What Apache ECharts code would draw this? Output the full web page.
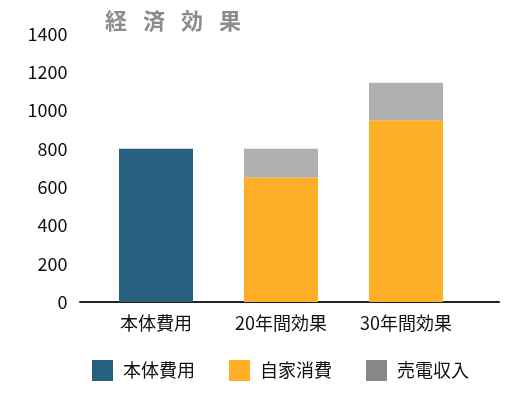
<!DOCTYPE html>
<html><head><meta charset="utf-8">
<script src="https://cdn.jsdelivr.net/npm/echarts@6/dist/echarts.min.js"></script>
<style>html,body{margin:0;padding:0;background:#fff}#c{width:527px;height:409px}</style>
</head><body><div id="c"></div>
<script>
const categories = ['本体費用', '20年間効果', '30年間効果'];
const seriesNames = ['本体費用', '自家消費', '売電収入'];
const honntai = [800, null, null];
const jikaShohi = [null, 650, 950];
const baiden = [null, 150, 195];
const yTicks = [0, 200, 400, 600, 800, 1000, 1200, 1400];

const font = "'Noto Sans CJK JP', sans-serif";
const chart = echarts.init(document.getElementById('c'));
chart.setOption({
  animation: false,
  backgroundColor: '#fff',
  title: {
    text: '経\u2002 済\u2002 効\u2002 果', left: 100, top: 5,
    textStyle: { color: '#8c8c8c', fontSize: 22, fontWeight: 'bold', fontFamily: font }
  },
  legend: {
    bottom: 23, left: 87,
    itemWidth: 21, itemHeight: 21, itemGap: 34,
    textStyle: { fontSize: 18, color: '#111', fontFamily: font, padding: [0, 0, 0, 5] },
    data: [
      { name: seriesNames[0], icon: 'rect' },
      { name: seriesNames[1], icon: 'rect' },
      { name: seriesNames[2], icon: 'rect', itemStyle: { color: '#888888' } }
    ]
  },
  grid: [
    { left: 93.5, right: 58.5, top: 34, bottom: 107 },
    { left: 80, right: 28, top: 34, bottom: 107 }
  ],
  xAxis: [
    {
      type: 'category', data: categories, gridIndex: 0,
      axisLine: { show: false }, axisTick: { show: false },
      axisLabel: { fontSize: 18, color: '#111', margin: 12, fontFamily: font }
    },
    {
      type: 'value', gridIndex: 1, min: 0, max: 1,
      axisLine: { show: true, lineStyle: { color: '#222', width: 2 } },
      axisTick: { show: false }, axisLabel: { show: false }, splitLine: { show: false }
    }
  ],
  yAxis: [
    {
      type: 'value', gridIndex: 0, min: yTicks[0], max: yTicks[yTicks.length - 1], interval: 200,
      axisLine: { show: false }, axisTick: { show: false }, splitLine: { show: false },
      axisLabel: { fontSize: 18, color: '#111', margin: 26, fontFamily: font, formatter: v => String(v) }
    },
    {
      type: 'value', gridIndex: 1, min: 0, max: 1, show: false
    }
  ],
  series: [
    { name: seriesNames[0], type: 'bar', stack: 's', data: honntai, barWidth: 74, itemStyle: { color: '#28607f' } },
    { name: seriesNames[1], type: 'bar', stack: 's', data: jikaShohi, barWidth: 74, itemStyle: { color: '#fdaf27' } },
    { name: seriesNames[2], type: 'bar', stack: 's', data: baiden, barWidth: 74, itemStyle: { color: '#b0b0b0' } }
  ]
});
</script></body></html>
